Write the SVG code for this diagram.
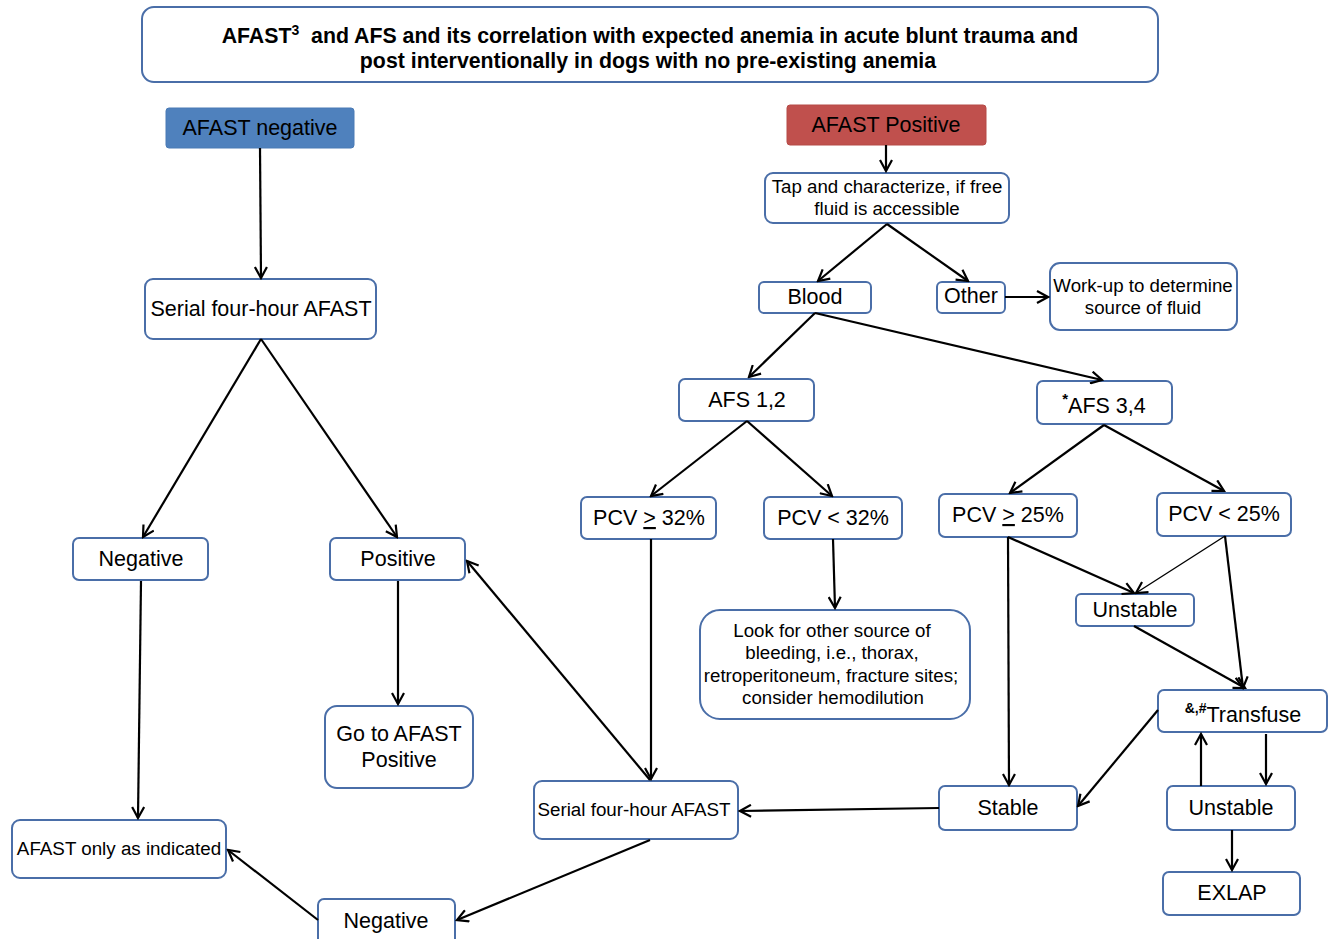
<svg xmlns="http://www.w3.org/2000/svg" width="1331" height="939" viewBox="0 0 1331 939">
<style>
.b{fill:#fff;stroke:#4a6ea8;stroke-width:2}
.t{font-family:"Liberation Sans",Arial,sans-serif;fill:#000;text-anchor:middle}
.s20{font-size:21.5px}.s18{font-size:18.8px}.s17{font-size:18.7px}
.c line{stroke:#000;stroke-width:2.2;marker-end:url(#a)}
</style>
<defs>
<marker id="a" markerUnits="userSpaceOnUse" markerWidth="14" markerHeight="14" refX="12" refY="7" orient="auto" viewBox="0 0 14 14">
<path d="M1,1 L12,7 L1,13" fill="none" stroke="#000" stroke-width="2.2"/>
</marker>
</defs>
<rect width="1331" height="939" fill="#fff"/>
<g id="title"><rect class="b" x="142" y="7" width="1016" height="75" rx="12"/>
<text class="t" x="650" y="43" font-size="21.3" font-weight="bold">AFAST<tspan font-size="14" dy="-8">3</tspan><tspan dy="8">&#160; and AFS and its correlation with expected anemia in acute blunt trauma and</tspan></text>
<text class="t" x="648" y="68" font-size="21.3" font-weight="bold">post interventionally in dogs with no pre-existing anemia</text></g>
<g id="afastneg"><rect x="166" y="108" width="188" height="40" rx="3" fill="#4f81bd" stroke="#4a7ab5" stroke-width="1"/><text class="t s20" x="260" y="135">AFAST negative</text></g>
<g id="afastpos"><rect x="787" y="105" width="199" height="40" rx="3" fill="#c0504d" stroke="#b54a47" stroke-width="1"/><text class="t s20" x="886" y="132">AFAST Positive</text></g>
<g id="tap"><rect class="b" x="765" y="173" width="244" height="50" rx="8"/><text class="t s17" x="887" y="193">Tap and characterize, if free</text><text class="t s17" x="887" y="215">fluid is accessible</text></g>
<g id="blood"><rect class="b" x="759" y="282" width="112" height="31" rx="5"/><text class="t s20" x="815" y="304">Blood</text></g>
<g id="other"><rect class="b" x="937" y="282" width="68" height="31" rx="5"/><text class="t s20" x="971" y="303">Other</text></g>
<g id="workup"><rect class="b" x="1050" y="263" width="187" height="67" rx="10"/><text class="t s17" x="1143" y="292">Work-up to determine</text><text class="t s17" x="1143" y="314">source of fluid</text></g>
<g id="afs12"><rect class="b" x="679" y="379" width="135" height="42" rx="6"/><text class="t s20" x="747" y="407">AFS 1,2</text></g>
<g id="afs34"><rect class="b" x="1037" y="381" width="135" height="43" rx="6"/><text class="t s20" x="1104" y="413"><tspan font-size="15" font-weight="bold" dy="-9">*</tspan><tspan dy="9">AFS 3,4</tspan></text></g>
<g id="pcvge32"><rect class="b" x="581" y="497" width="135" height="42" rx="6"/><text class="t s20" x="649" y="525">PCV <tspan text-decoration="underline">&gt;</tspan> 32%</text></g>
<g id="pcvlt32"><rect class="b" x="764" y="497" width="138" height="42" rx="6"/><text class="t s20" x="833" y="525">PCV &lt; 32%</text></g>
<g id="pcvge25"><rect class="b" x="939" y="494" width="138" height="43" rx="6"/><text class="t s20" x="1008" y="522">PCV <tspan text-decoration="underline">&gt;</tspan> 25%</text></g>
<g id="pcvlt25"><rect class="b" x="1157" y="493" width="134" height="43" rx="6"/><text class="t s20" x="1224" y="521">PCV &lt; 25%</text></g>
<g id="unstable1"><rect class="b" x="1076" y="594" width="118" height="32" rx="5"/><text class="t s20" x="1135" y="617">Unstable</text></g>
<g id="transfuse"><rect class="b" x="1158" y="690" width="169" height="42" rx="6"/><text class="t s20" x="1243" y="722"><tspan font-size="14" font-weight="bold" dy="-9">&amp;,#</tspan><tspan dy="9">Transfuse</tspan></text></g>
<g id="lookfor"><rect class="b" x="700" y="610" width="270" height="109" rx="20"/><text class="t s17" x="832" y="637">Look for other source of</text><text class="t s17" x="832" y="659">bleeding, i.e., thorax,</text><text class="t s17" x="831" y="682">retroperitoneum, fracture sites;</text><text class="t s17" x="833" y="704">consider hemodilution</text></g>
<g id="stable"><rect class="b" x="939" y="786" width="138" height="44" rx="6"/><text class="t s20" x="1008" y="815">Stable</text></g>
<g id="unstable2"><rect class="b" x="1167" y="786" width="128" height="44" rx="6"/><text class="t s20" x="1231" y="815">Unstable</text></g>
<g id="exlap"><rect class="b" x="1163" y="872" width="137" height="43" rx="6"/><text class="t s20" x="1232" y="900">EXLAP</text></g>
<g id="serialmid"><rect class="b" x="534" y="781" width="204" height="58" rx="8"/><text class="t s18" x="634" y="816">Serial four-hour AFAST</text></g>
<g id="negbottom"><rect class="b" x="318" y="899" width="137" height="46" rx="6"/><text class="t s20" x="386" y="928">Negative</text></g>
<g id="afastonly"><rect class="b" x="12" y="820" width="214" height="58" rx="8"/><text class="t s18" x="119" y="855">AFAST only as indicated</text></g>
<g id="serialleft"><rect class="b" x="145" y="279" width="231" height="60" rx="8"/><text class="t s20" x="261" y="316">Serial four-hour AFAST</text></g>
<g id="negleft"><rect class="b" x="73" y="538" width="135" height="42" rx="6"/><text class="t s20" x="141" y="566">Negative</text></g>
<g id="posleft"><rect class="b" x="330" y="538" width="135" height="42" rx="6"/><text class="t s20" x="398" y="566">Positive</text></g>
<g id="goto"><rect class="b" x="325" y="706" width="148" height="82" rx="12"/><text class="t s20" x="399" y="741">Go to AFAST</text><text class="t s20" x="399" y="767">Positive</text></g>
<g id="connectors" class="c">
<line x1="260" y1="148" x2="261" y2="278"/>
<line x1="886" y1="145" x2="886" y2="171"/>
<line x1="887" y1="224" x2="818" y2="281"/>
<line x1="887" y1="224" x2="968" y2="281"/>
<line x1="1005" y1="297" x2="1048" y2="297"/>
<line x1="815" y1="313" x2="749" y2="377"/>
<line x1="815" y1="313" x2="1102" y2="380"/>
<line x1="747" y1="421" x2="651" y2="496"/>
<line x1="747" y1="421" x2="832" y2="496"/>
<line x1="1104" y1="425" x2="1010" y2="493"/>
<line x1="1104" y1="425" x2="1224" y2="491"/>
<line x1="833" y1="539" x2="835" y2="608"/>
<line x1="651" y1="539" x2="651" y2="779"/>
<line x1="1008" y1="537" x2="1009" y2="785"/>
<line x1="1008" y1="537" x2="1134" y2="593"/>
<line x1="1225" y1="536" x2="1136" y2="593" style="stroke-width:1.4"/>
<line x1="1225" y1="536" x2="1243" y2="688"/>
<line x1="1134" y1="626" x2="1245" y2="688"/>
<line x1="1158" y1="710" x2="1078" y2="806"/>
<line x1="1201" y1="786" x2="1201" y2="734"/>
<line x1="1266" y1="734" x2="1266" y2="784"/>
<line x1="1232" y1="830" x2="1232" y2="870"/>
<line x1="939" y1="808" x2="740" y2="811"/>
<line x1="650" y1="780" x2="467" y2="561"/>
<line x1="650" y1="840" x2="457" y2="920"/>
<line x1="318" y1="920" x2="228" y2="850"/>
<line x1="261" y1="339" x2="143" y2="537"/>
<line x1="261" y1="339" x2="397" y2="537"/>
<line x1="141" y1="581" x2="138" y2="818"/>
<line x1="398" y1="581" x2="398" y2="704"/>
</g>
</svg>
